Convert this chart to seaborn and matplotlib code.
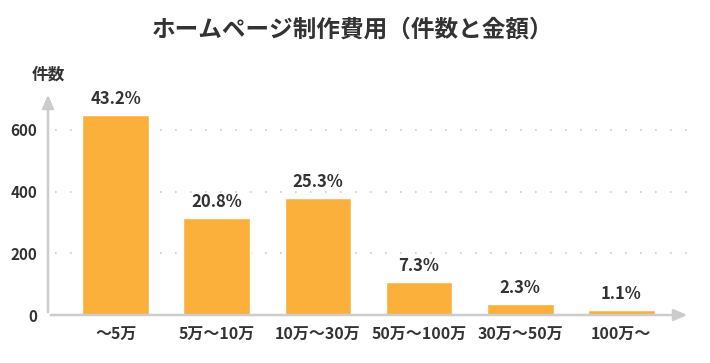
import matplotlib
matplotlib.use("Agg")
import matplotlib.pyplot as plt
import seaborn as sns
import pandas as pd

categories = ["〜5万", "5万〜10万", "10万〜30万", "50万〜100万", "30万〜50万", "100万〜"]
counts = [648, 315, 379, 107, 35, 16]
percent_labels = ["43.2%", "20.8%", "25.3%", "7.3%", "2.3%", "1.1%"]
y_ticks = [0, 200, 400, 600]

sns.set_style("white")
plt.rcParams['font.family'] = ['Noto Sans CJK JP', 'DejaVu Sans']

df = pd.DataFrame({"cat": categories, "count": counts})

fig = plt.figure(figsize=(7.1, 3.63), dpi=100)
ax = fig.add_axes([48/710, 1-315/363, (690-48)/710, (315-92)/363])

bar_color = "#FBB03B"
text_color = "#333333"
sns.barplot(data=df, x="cat", y="count", color=bar_color, width=0.66,
            saturation=1, ax=ax, zorder=3)

ax.set_xlim(-0.67, 5.68)
ax.set_ylim(0, 723)
for s in ax.spines.values():
    s.set_visible(False)

ax.set_yticks(y_ticks)
ax.set_yticklabels([str(v) for v in y_ticks], fontsize=11, fontweight="bold", color=text_color)
ax.tick_params(axis="y", length=0, pad=8)
ax.tick_params(axis="x", length=0, pad=8)
for lbl in ax.get_xticklabels():
    lbl.set_fontsize(11.5)
    lbl.set_fontweight("bold")
    lbl.set_color(text_color)
ax.set_xlabel("")
ax.set_ylabel("")

# dotted gridlines
for v in y_ticks[1:]:
    ax.plot([-0.6, 5.68], [v, v], color="#CCCCCC", linestyle=(0, (1, 8)), linewidth=1.2, zorder=1)

# axes with arrows
axis_color = "#CCCCCC"
ax.annotate("", xy=(1.0, 0), xytext=(0, 0), xycoords="axes fraction",
            arrowprops=dict(arrowstyle="-|>,head_length=0.8,head_width=0.35", color=axis_color, lw=1.8),
            annotation_clip=False, zorder=4)
ax.annotate("", xy=(0, 1.0), xytext=(0, 0), xycoords="axes fraction",
            arrowprops=dict(arrowstyle="-|>,head_length=0.8,head_width=0.35", color=axis_color, lw=1.8),
            annotation_clip=False, zorder=4)

# percentage labels
for i, (c, p) in enumerate(zip(counts, percent_labels)):
    ax.annotate(p, xy=(i, c), xytext=(0, 5), textcoords="offset points",
                ha="center", va="bottom", fontsize=12, fontweight="bold", color=text_color)

fig.text(0.497, 1-30/363, "ホームページ制作費用（件数と金額）", ha="center", va="center",
         fontsize=17, fontweight="bold", color=text_color)
fig.text(48/710, 1-75/363, "件数", ha="center", va="center",
         fontsize=12, fontweight="bold", color=text_color)

fig.savefig("out.png", dpi=100)
